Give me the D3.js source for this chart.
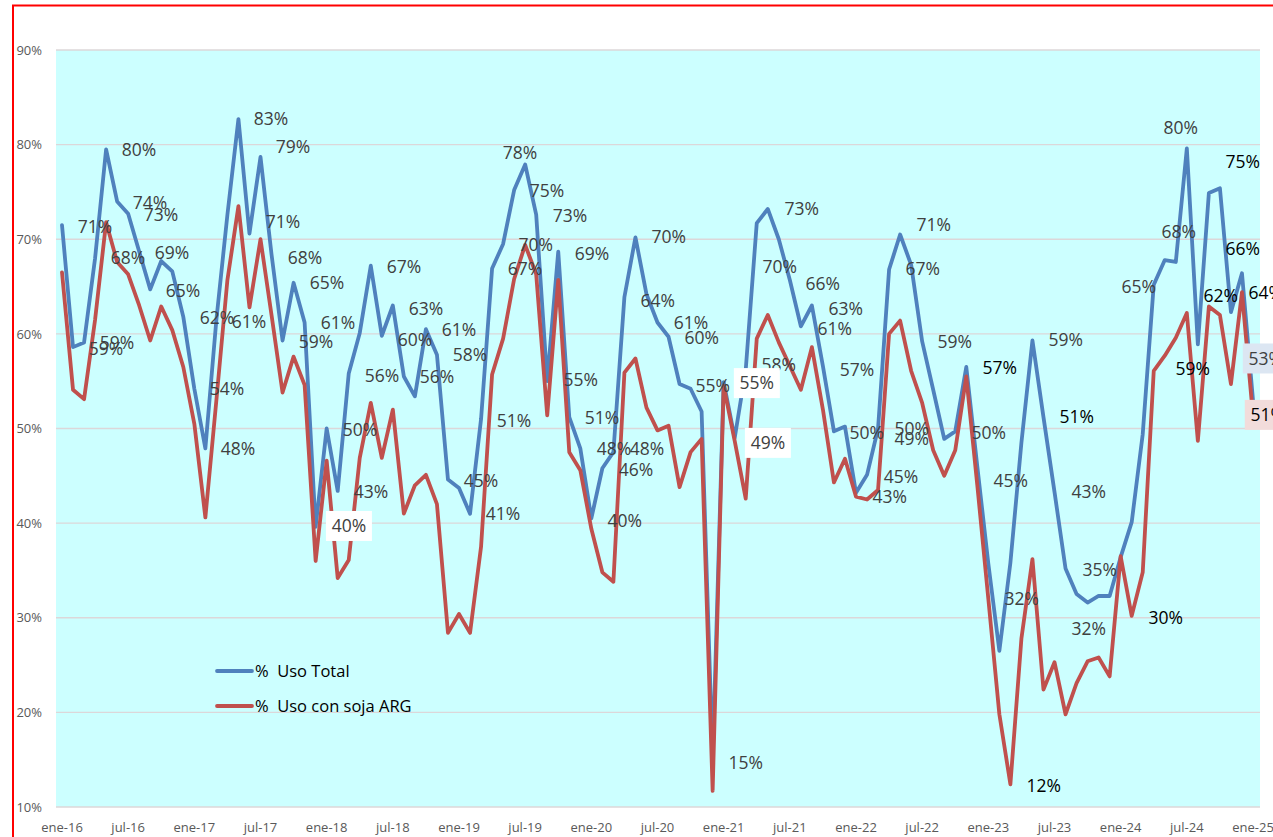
<!DOCTYPE html>
<html><head><meta charset="utf-8">
<script src="https://cdn.jsdelivr.net/npm/d3@7"></script>
<style>html,body{margin:0;padding:0;background:#fff;overflow:hidden}</style>
</head><body>
<svg id="c" width="1273" height="837"></svg>
<script>
// ---------- DATA ----------
const tickLabels = ["ene-16","jul-16","ene-17","jul-17","ene-18","jul-18","ene-19","jul-19","ene-20","jul-20","ene-21","jul-21","ene-22","jul-22","ene-23","jul-23","ene-24","jul-24","ene-25"];
const yTickValues = [10,20,30,40,50,60,70,80,90];
const seriesNames = ["%  Uso Total", "%  Uso con soja ARG"];

// monthly values, ene-16 .. ene-25
const usoTotal = [
71.5,58.6,59.1,68.0,79.5,74.0,72.7,68.7,64.7,67.7,66.6,61.8,
54.2,47.9,61.5,72.6,82.7,70.6,78.7,68.4,59.3,65.4,61.2,39.6,
50.0,43.4,55.8,60.1,67.2,59.8,63.0,55.5,53.4,60.5,57.8,44.6,
43.7,41.0,51.0,66.9,69.5,75.2,77.9,72.6,55.0,68.7,51.2,47.9,
40.5,45.8,47.5,63.9,70.2,64.2,61.2,59.7,54.7,54.2,51.8,15.0,
54.9,49.0,56.2,71.7,73.2,70.0,65.7,60.8,63.0,56.6,49.7,50.2,
43.2,45.1,50.0,66.8,70.5,67.3,59.2,54.1,48.9,49.7,56.5,46.0,
35.7,26.5,35.8,48.5,59.3,51.2,43.3,35.2,32.5,31.6,32.3,32.3,
36.4,40.1,49.4,65.2,67.8,67.6,79.6,58.9,74.9,75.4,62.3,66.4,
53.0];
const usoSoja = [
66.5,54.1,53.1,61.5,71.8,67.6,66.3,63.0,59.3,62.9,60.4,56.5,
50.5,40.6,53.0,65.7,73.5,62.8,70.0,62.0,53.8,57.6,54.6,36.0,
46.6,34.2,36.1,46.9,52.7,46.9,52.0,41.0,44.0,45.1,42.0,28.4,
30.4,28.4,37.5,55.7,59.5,65.8,69.4,66.3,51.4,65.7,47.5,45.6,
39.4,34.8,33.8,55.9,57.4,52.2,49.8,50.3,43.8,47.5,48.9,11.7,
54.5,48.7,42.6,59.5,62.0,59.1,56.6,54.1,58.6,52.0,44.3,46.8,
42.8,42.5,43.5,60.0,61.4,56.1,52.7,47.7,45.0,47.7,55.5,44.0,
32.0,19.8,12.4,27.8,36.2,22.4,25.3,19.8,23.1,25.4,25.8,23.8,
36.5,30.2,34.8,56.1,57.7,59.6,62.2,48.7,62.9,62.0,54.7,64.4,
51.3];

// data labels: [text, month position, value position]
const labelsGray = [
["71%",2.99,71.3],["80%",6.98,79.45],["74%",7.98,73.85],["73%",8.98,72.58],["68%",5.98,68.0],["69%",9.97,68.56],["65%",10.97,64.55],["59%",3.99,58.41],["59%",4.99,59.04],["62%",14.05,61.69],["61%",16.95,61.27],
["83%",18.95,82.73],["79%",20.94,79.75],["71%",20.04,71.82],["68%",22.03,68.03],["65%",24.03,65.39],["59%",23.03,59.15],["61%",25.02,61.16],["67%",31.01,67.08],["63%",33.0,62.67],["60%",32.0,59.39],["56%",29.01,55.56],["54%",14.96,54.19],["48%",15.96,47.84],
["56%",34.0,55.45],["61%",35.99,60.42],["58%",36.99,57.78],["78%",41.52,79.13],["75%",43.97,75.12],["73%",46.06,72.47],["70%",42.97,69.41],["67%",41.98,66.87],["69%",48.05,68.46],["55%",47.05,55.14],
["70%",55.03,70.29],["64%",54.03,63.52],["61%",57.03,61.16],["60%",58.02,59.56],["55%",59.02,54.49],["73%",67.09,73.21],["70%",65.09,67.08],["58%",65.0,56.79],["66%",68.99,65.29],["63%",71.08,62.67],["61%",70.08,60.55],["57%",72.08,56.21],
["71%",79.06,71.5],["67%",78.06,66.87],["59%",80.96,59.15],["59%",91.02,59.37],["80%",101.45,81.78],["68%",101.27,70.78],["65%",97.64,64.97],
["50%",27.02,49.85],["43%",28.01,43.3],["51%",40.98,50.8],["45%",37.99,44.46],["41%",39.98,40.97],["51%",48.96,51.12],["48%",50.05,47.84],["48%",53.04,47.84],["46%",52.04,45.62],["40%",51.04,40.23],["15%",62.01,14.65],
["50%",72.98,49.54],["50%",77.06,49.96],["49%",77.06,48.9],["50%",84.04,49.54],["45%",76.07,44.88],["43%",75.07,42.77],["45%",86.04,44.46],["32%",87.04,31.99],["43%",93.11,43.3],["35%",94.11,35.05],["32%",93.11,28.82]
];
const labelsBlack = [
["57%",85.04,56.41],["51%",92.02,51.23],["30%",100.09,29.98],["12%",89.03,12.22],["75%",107.07,78.18],["66%",107.07,68.99],["62%",105.08,64.02],["64%",109.16,64.33],["59%",102.54,56.3]
];
const labelsBoxed = [
["40%",26.02,39.7],["55%",63.01,54.8],["49%",64.01,48.48],["53%",109.16,57.4],["51%",109.34,51.44]
];
const boxFills = ["#ffffff","#ffffff","#ffffff","#dce6f2","#f2dcdb"];
const boxTextColors = ["#404040","#404040","#404040","#404040","#000000"];

// ---------- CHART ----------
const svg = d3.select("#c");
const plot = {left:56, right:1260, top:50, bottom:807};
const x = d3.scaleLinear().domain([0, 108]).range([62, 1253]);
const y = d3.scaleLinear().domain([10, 90]).range([plot.bottom, plot.top]);
const FONT = "'Open Sans', 'Liberation Sans', sans-serif";

svg.append("rect").attr("x",0).attr("y",0).attr("width",1273).attr("height",837).attr("fill","#fff");
svg.append("rect").attr("x",plot.left).attr("y",plot.top)
  .attr("width",plot.right-plot.left).attr("height",plot.bottom-plot.top).attr("fill","#ccffff");

// gridlines
svg.append("g").selectAll("line").data(yTickValues).join("line")
  .attr("x1",plot.left).attr("x2",plot.right)
  .attr("y1",d=>y(d)).attr("y2",d=>y(d))
  .attr("stroke","#dcd7d9").attr("stroke-width",1.3);

// y axis labels
svg.append("g").selectAll("text").data(yTickValues).join("text")
  .attr("x",42).attr("y",d=>y(d)).attr("dy","0.36em")
  .attr("text-anchor","end").attr("font-family",FONT).attr("font-size",13)
  .attr("fill","#595959").text(d=>d+"%");

// x axis labels
svg.append("g").selectAll("text").data(tickLabels).join("text")
  .attr("x",(d,i)=>x(i*6)).attr("y",832)
  .attr("text-anchor","middle").attr("font-family",FONT).attr("font-size",13)
  .attr("fill","#595959").text(d=>d);

// lines
const line = d3.line().x((d,i)=>x(i)).y(d=>y(d));
const colors = ["#4f81bd","#c0504d"];
[usoTotal, usoSoja].forEach((s,k)=>{
  svg.append("path").datum(s).attr("d",line).attr("fill","none")
    .attr("stroke",colors[k]).attr("stroke-width",3.8)
    .attr("stroke-linejoin","round").attr("stroke-linecap","round");
});

// legend
const legY = [671, 706];
seriesNames.forEach((n,k)=>{
  svg.append("line").attr("x1",217).attr("x2",252).attr("y1",legY[k]).attr("y2",legY[k])
    .attr("stroke",colors[k]).attr("stroke-width",3.8).attr("stroke-linecap","round");
  svg.append("text").attr("x",255).attr("y",legY[k]).attr("dy","0.36em")
    .attr("font-family",FONT).attr("font-size",16.5).attr("fill","#000")
    .style("white-space","pre").text(n);
});

// data labels
const LFS = 17.5;
function addLabels(arr, color){
  svg.append("g").selectAll("text").data(arr).join("text")
    .attr("x",d=>x(d[1])).attr("y",d=>y(d[2])).attr("dy","0.36em")
    .attr("text-anchor","middle").attr("font-family",FONT).attr("font-size",LFS)
    .attr("fill",color).text(d=>d[0]);
}
addLabels(labelsGray, "#404040");
addLabels(labelsBlack, "#000000");

const gb = svg.append("g");
labelsBoxed.forEach((d,i)=>{
  gb.append("rect").attr("x",x(d[1])-23).attr("y",y(d[2])-15)
    .attr("width",46).attr("height",30).attr("fill",boxFills[i]);
  gb.append("text").attr("x",x(d[1])).attr("y",y(d[2])).attr("dy","0.36em")
    .attr("text-anchor","middle").attr("font-family",FONT).attr("font-size",LFS)
    .attr("fill",boxTextColors[i]).text(d[0]);
});

// outer red border
svg.append("rect").attr("x",13).attr("y",5.5).attr("width",1400).attr("height",1000)
  .attr("fill","none").attr("stroke","#ff0000").attr("stroke-width",2);
</script>
</body></html>
